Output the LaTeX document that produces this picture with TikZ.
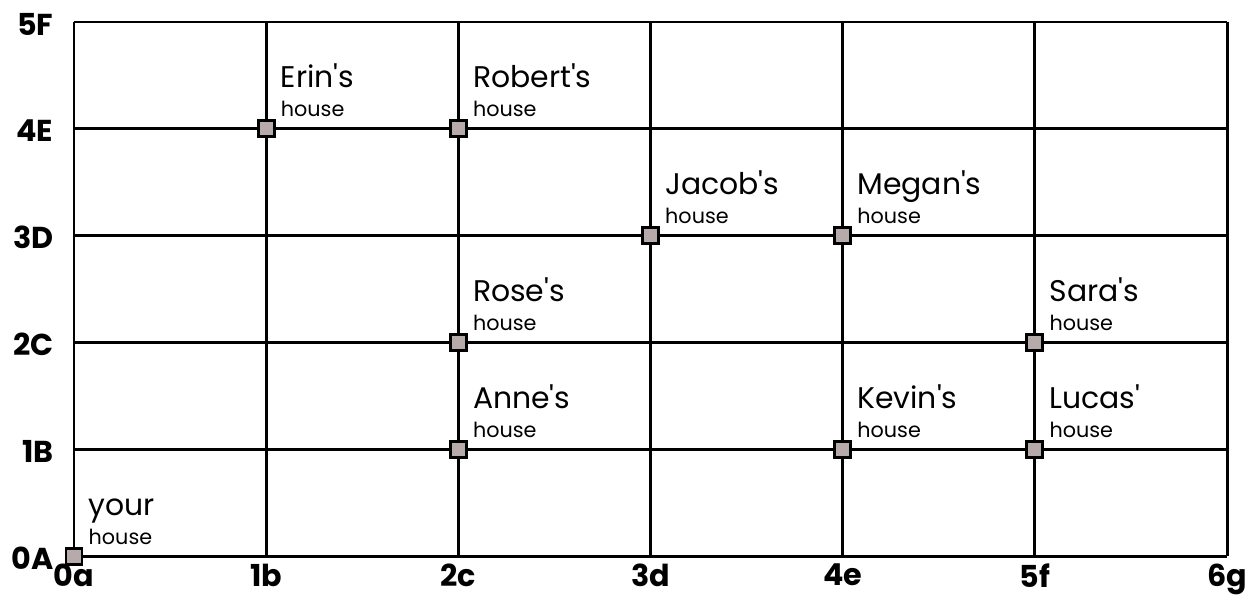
\documentclass[tikz,border=0pt]{standalone}
\usepackage{fontspec}
\setmainfont{Poppins}
\definecolor{housefill}{RGB}{183,170,170}
\begin{document}
\begin{tikzpicture}[x=1.9217cm,y=1.068cm,
  gridline/.style={line width=0.85pt},
  housebox/.style={draw=black,line width=0.85pt,fill=housefill,minimum size=0.16cm,inner sep=0pt},
  axislab/.style={font=\fontsize{8.6}{10}\selectfont\bfseries,inner sep=0pt},
  namelab/.style={font=\fontsize{8.5}{10}\selectfont,inner sep=0pt,anchor=base west},
  houselab/.style={font=\fontsize{5.9}{7}\selectfont,inner sep=0pt,anchor=base west}]
\useasboundingbox (-0.74cm,-0.38cm) rectangle (11.79cm,5.56cm);
% grid
\foreach \i in {0,...,6} \draw[gridline] (\i,0) -- (\i,5);
\foreach \j in {0,...,5} \draw[gridline] (0,\j) -- (6,\j);
% axis labels
\foreach \j/\t in {0/0A,1/1B,2/2C,3/3D,4/4E,5/5F}
  \node[axislab,anchor=east] (ly\j) at ([xshift=-0.2cm,yshift=-0.02cm]0,\j) {\t};
\foreach \i/\t in {0/0a,1/1b,2/2c,3/3d,4/4e,5/5f,6/6g}
  \node[axislab,anchor=north] (lx\i) at ([yshift=-0.07cm]\i,0) {\t};
% houses
\foreach \n/\x/\y/\t in {your/0/0/your,erin/1/4/Erin\textquotesingle s,robert/2/4/Robert\textquotesingle s,jacob/3/3/Jacob\textquotesingle s,megan/4/3/Megan\textquotesingle s,rose/2/2/Rose\textquotesingle s,sara/5/2/Sara\textquotesingle s,anne/2/1/Anne\textquotesingle s,kevin/4/1/Kevin\textquotesingle s,lucas/5/1/Lucas\textquotesingle}{
  \node[housebox] (h\n) at (\x,\y) {};
  \node[houselab] (s\n) at ([xshift=0.14cm,yshift=0.12cm]\x,\y) {house};
  \node[namelab] (n\n) at ([xshift=0.14cm,yshift=0.41cm]\x,\y) {\t};
}
\end{tikzpicture}
\end{document}
